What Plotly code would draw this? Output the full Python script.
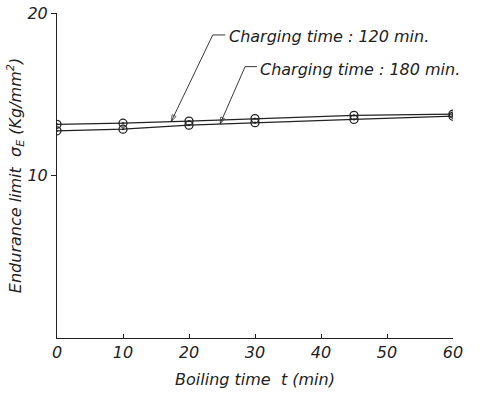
import numpy as np
import plotly.graph_objects as go

boiling_time = [0, 10, 20, 30, 45, 60]
endurance_120 = [13.15, 13.22, 13.35, 13.5, 13.7, 13.78]
endurance_180 = [12.75, 12.85, 13.1, 13.25, 13.45, 13.65]
series_labels = ["Charging time : 120 min.", "Charging time : 180 min."]
x_ticks = [0, 10, 20, 30, 40, 50, 60]
y_ticks = [10, 20]

FONT = "DejaVu Sans"
INK = "#222222"

fig = go.Figure()
for ys in (endurance_120, endurance_180):
    fig.add_trace(go.Scatter(
        x=boiling_time, y=ys, mode="lines+markers",
        line=dict(color=INK, width=1.2),
        marker=dict(symbol="circle-open-dot", size=8, color=INK, line=dict(width=1.3)),
        showlegend=False, hoverinfo="skip"))

# leader lines (bracket end -> corner -> arrow tip), placed like annotations
tip1_x = 17.3
tip1_y = float(np.interp(tip1_x, boiling_time, endurance_120))
tip2_x = 24.7
tip2_y = float(np.interp(tip2_x, boiling_time, endurance_180))
leaders = [
    ([25.5, 23.6, tip1_x], [18.65, 18.65, tip1_y]),
    ([30.3, 28.5, tip2_x], [16.7, 16.7, tip2_y]),
]
for lx, ly in leaders:
    fig.add_trace(go.Scatter(
        x=lx, y=ly, mode="lines+markers",
        line=dict(color=INK, width=0.9),
        marker=dict(symbol="arrow-open", size=[0, 0, 7], angleref="previous",
                    color=INK, line=dict(width=1, color=INK)),
        showlegend=False, hoverinfo="skip", cliponaxis=False))

ann = [
    dict(x=25.7, y=18.55, xref="x", yref="y", xanchor="left", yanchor="middle",
         text=series_labels[0], showarrow=False,
         font=dict(family=FONT, size=16, color=INK, style="italic")),
    dict(x=30.5, y=16.5, xref="x", yref="y", xanchor="left", yanchor="middle",
         text=series_labels[1], showarrow=False,
         font=dict(family=FONT, size=16, color=INK, style="italic")),
]

fig.update_layout(
    width=488, height=395,
    margin=dict(l=57, r=35, t=13, b=57),
    paper_bgcolor="white", plot_bgcolor="white",
    font=dict(family=FONT, color=INK, size=15, style="italic"),
    annotations=ann,
    xaxis=dict(range=[0, 60], tickvals=x_ticks, ticks="inside", ticklen=4, tickcolor=INK,
               showline=True, linecolor=INK, linewidth=1, showgrid=False, zeroline=False,
               automargin=False, ticklabeloverflow="allow",
               tickfont=dict(size=16, family=FONT, style="italic"),
               title=dict(text="Boiling time &nbsp;t (min)", standoff=12,
                          font=dict(size=16, family=FONT, style="italic"))),
    yaxis=dict(range=[0, 20], tickvals=y_ticks, ticks="outside", ticklen=5, tickcolor=INK,
               showline=True, linecolor=INK, linewidth=1, showgrid=False, zeroline=False,
               automargin=False, ticklabeloverflow="allow",
               tickfont=dict(size=16, family=FONT, style="italic"),
               title=dict(text="Endurance limit &nbsp;σ<sub>E</sub> (Kg/mm<sup>2</sup>)", standoff=0,
                          font=dict(size=16, family=FONT, style="italic"))),
)

fig.write_html("out.html", config={"displayModeBar": False},
               post_script="document.body.style.margin='0';")
